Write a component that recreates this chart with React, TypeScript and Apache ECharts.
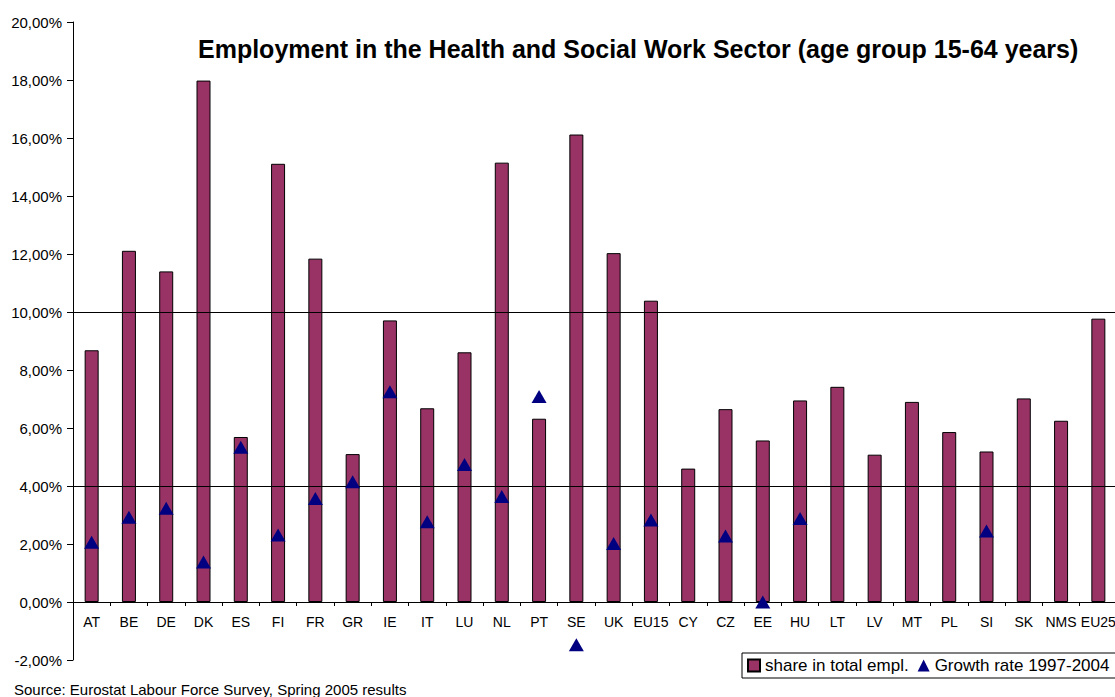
import React, { useEffect, useRef } from "react";
import * as echarts from "echarts";

const categories = ["AT", "BE", "DE", "DK", "ES", "FI", "FR", "GR", "IE", "IT", "LU", "NL", "PT", "SE", "UK", "EU15", "CY", "CZ", "EE", "HU", "LT", "LV", "MT", "PL", "SI", "SK", "NMS", "EU25"];
const shareTotal = [8.68, 12.11, 11.40, 17.98, 5.69, 15.11, 11.84, 5.10, 9.71, 6.68, 8.61, 15.15, 6.32, 16.12, 12.03, 10.39, 4.60, 6.65, 5.57, 6.95, 7.42, 5.08, 6.90, 5.86, 5.19, 7.02, 6.25, 9.77];
const growthRate: (number | null)[] = [2.06, 2.92, 3.23, 1.38, 5.34, 2.31, 3.57, 4.15, 7.25, 2.77, 4.74, 3.64, 7.09, -1.47, 2.02, 2.83, null, 2.28, 0.0, 2.88, null, null, null, null, 2.45, null, null, null];
const referenceLines = [4, 10];
const yMin = -2;
const yMax = 20;
const yStep = 2;

const FONT = "'Liberation Sans', Arial, sans-serif";

export default function App() {
  const ref = useRef<HTMLDivElement>(null);
  useEffect(() => {
    if (!ref.current) return;
    const chart = echarts.init(ref.current, null, { renderer: "svg" });
    chart.setOption({
      animation: false,
      backgroundColor: "#ffffff",
      textStyle: { fontFamily: FONT, color: "#000" },
      title: {
        text: "Employment in the Health and Social Work Sector (age group 15-64 years)",
        left: 198,
        top: 36,
        padding: 0,
        textStyle: { fontFamily: FONT, fontSize: 25, fontWeight: "bold", color: "#000" },
      },
      legend: {
        left: 742,
        top: 653,
        width: 420,
        orient: "horizontal",
        borderColor: "#000",
        borderWidth: 1,
        padding: [4, 8, 4, 5],
        itemWidth: 12,
        itemHeight: 12,
        itemGap: 9,
        textStyle: { fontFamily: FONT, fontSize: 17, color: "#000" },
        data: [
          { name: "share in total empl.", icon: "rect" },
          { name: "Growth rate 1997-2004", icon: "triangle" },
        ],
      },
      grid: {
        left: 73,
        top: 22,
        width: 1044,
        height: 638,
        containLabel: false,
        outerBoundsMode: "none",
      },
      xAxis: {
        type: "category",
        data: categories,
        axisLine: { show: true, onZero: true, lineStyle: { color: "#000", width: 1 } },
        axisTick: { show: true, length: 4, inside: false, lineStyle: { color: "#000" } },
        axisLabel: { interval: 0, hideOverlap: false, margin: -45, fontSize: 14, color: "#000", fontFamily: FONT },
        splitLine: { show: false },
      },
      yAxis: {
        type: "value",
        min: yMin,
        max: yMax,
        interval: yStep,
        axisLine: { show: true, lineStyle: { color: "#000", width: 1 } },
        axisTick: { show: true, length: 6, inside: false, lineStyle: { color: "#000" } },
        axisLabel: {
          margin: 11,
          fontSize: 15,
          color: "#000",
          fontFamily: FONT,
          formatter: (v: number) => v.toFixed(2).replace(".", ",") + "%",
        },
        splitLine: { show: false },
      },
      series: [
        {
          name: "share in total empl.",
          type: "bar",
          data: shareTotal,
          barWidth: 14,
          itemStyle: { color: "#993366", borderColor: "#000", borderWidth: 1 },
          markLine: {
            silent: true,
            symbol: ["none", "none"],
            label: { show: false },
            lineStyle: { color: "#000", type: "solid", width: 1 },
            data: referenceLines.map((v) => ({ yAxis: v })),
          },
        },
        {
          name: "Growth rate 1997-2004",
          type: "scatter",
          data: growthRate.map((v) => (v === null ? "-" : v)),
          symbol: "triangle",
          symbolSize: [15, 13],
          itemStyle: { color: "#000080", opacity: 1 },
          z: 5,
        },
      ],
      graphic: [
        {
          type: "text",
          left: 14,
          top: 682,
          style: {
            text: "Source: Eurostat Labour Force Survey, Spring 2005 results",
            font: "15px 'Liberation Sans', Arial, sans-serif",
            fill: "#000",
          },
        },
      ],
    });
    return () => chart.dispose();
  }, []);
  return (
    <div
      ref={ref}
      style={{ position: "fixed", left: 0, top: 0, width: 1115, height: 697, background: "#fff" }}
    />
  );
}
